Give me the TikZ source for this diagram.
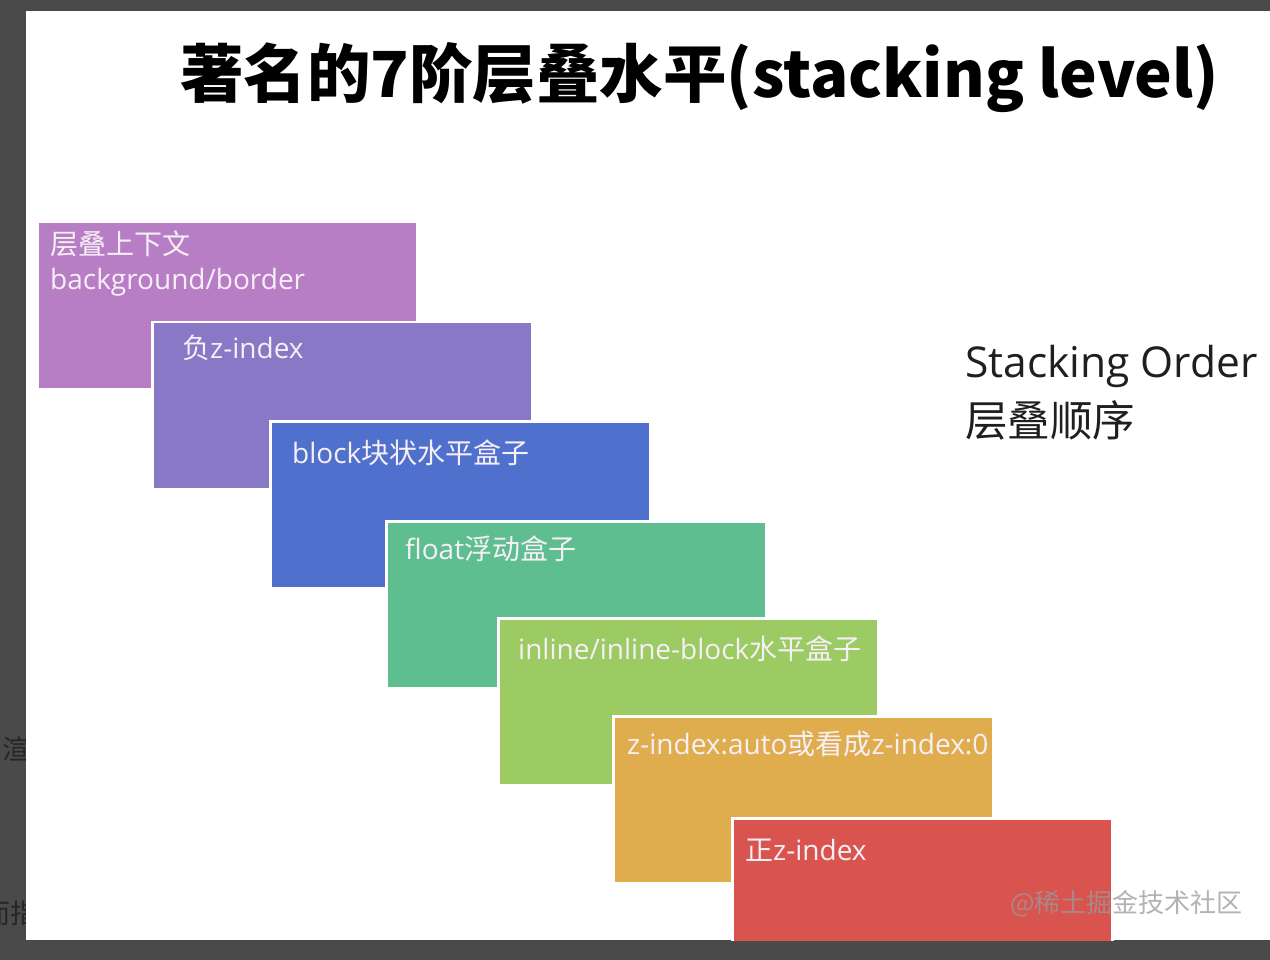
\documentclass[tikz,border=0pt]{standalone}
\usepackage{fontspec}
\setmainfont{Open Sans}
\newfontfamily\cjk{Noto Sans CJK SC}
\usetikzlibrary{shadows}
\definecolor{frame}{HTML}{4A4A4A}
\definecolor{cA}{HTML}{B77EC6}
\definecolor{cB}{HTML}{8878C6}
\definecolor{cC}{HTML}{4F70CC}
\definecolor{cD}{HTML}{5EBE90}
\definecolor{cE}{HTML}{9CCA63}
\definecolor{cF}{HTML}{DFAD4E}
\definecolor{cG}{HTML}{D9534F}
\definecolor{lbl}{HTML}{F6F0F6}
\definecolor{wm}{HTML}{9A9A9A}
\tikzset{
  layer/.style={draw=white, line width=2.5pt, anchor=north west, minimum width=380pt, minimum height=167pt, inner sep=0pt,
    drop shadow={shadow xshift=0pt, shadow yshift=-1pt, opacity=0.18}},
  lab/.style={anchor=base west, inner sep=0pt, text=lbl, font=\fontsize{28}{32}\selectfont},
  side/.style={anchor=base west, inner sep=0pt, text=black!88, font=\fontsize{42.5}{50}\selectfont},
}
\begin{document}
\begin{tikzpicture}[x=1pt,y=-1pt]
\useasboundingbox (0,0) rectangle (1270,960);
\fill[frame] (0,0) rectangle (1270,960);
\node[anchor=base west, inner sep=0pt, text=black!85, font=\cjk\fontsize{27}{30}\selectfont] (edge1) at (2,759) {渲};
\node[anchor=base west, inner sep=0pt, text=black!85, font=\cjk\fontsize{27}{30}\selectfont] (edge2) at (-17,923) {而指};
\fill[white] (26,11) rectangle (1270,940);
\begin{scope}
\clip (26,11) rectangle (1270,940);
\node[anchor=base west, inner sep=0pt, font=\cjk\bfseries\fontsize{63.5}{70}\selectfont] (title) at (180,98) {著名的7阶层叠水平(stacking level)};

\node[layer, fill=cA] (b1) at (36,221) {};
\node[layer, fill=cB] (b2) at (151,321) {};
\node[layer, fill=cC] (b3) at (269,420) {};
\node[layer, fill=cD] (b4) at (385,520) {};
\node[layer, fill=cE] (b5) at (497,617) {};
\node[layer, fill=cF] (b6) at (612,715) {};
\node[layer, fill=cG] (b7) at (731,817) {};

\node[lab] (t1a) at (50,255) {\cjk 层叠上下文};
\node[lab] (t1b) at (50,290) {background/border};
\node[lab] (t2) at (182,359) {{\cjk 负}z-index};
\node[lab] (t3) at (292,463) {block{\cjk 块状水平盒子}};
\node[lab] (t4) at (405,559) {float{\cjk 浮动盒子}};
\node[lab] (t5) at (518,659) {inline/inline-block{\cjk 水平盒子}};
\node[lab] (t6) at (627,754) {z-index:auto{\cjk 或看成}z-index:0};
\node[lab] (t7) at (745,860) {{\cjk 正}z-index};

\node[side] (so) at (965,377) {Stacking Order};
\node[side, font=\cjk\fontsize{42.5}{50}\selectfont] (sc) at (965,436) {层叠顺序};

\node[anchor=base west, inner sep=0pt, text=wm, opacity=0.75, font=\cjk\fontsize{26}{30}\selectfont] (wm) at (1010,912) {@稀土掘金技术社区};
\end{scope}
\end{tikzpicture}
\end{document}
